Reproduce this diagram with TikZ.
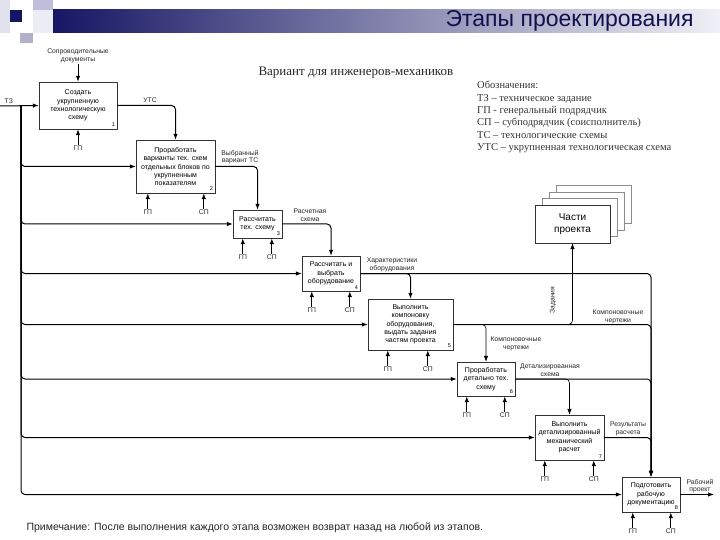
\documentclass[tikz,border=0pt]{standalone}
\usepackage{fontspec}
\setmainfont{Liberation Sans}
\newfontfamily\timesfont{Liberation Serif}
\usepackage{tikz}
\usetikzlibrary{arrows.meta, positioning, calc}

\definecolor{barnavy}{RGB}{22,22,100}
\definecolor{barmid}{RGB}{130,130,182}
\definecolor{barlight}{RGB}{240,240,246}
\definecolor{titlenavy}{RGB}{16,16,80}
\definecolor{lavender}{RGB}{190,190,220}

\begin{document}
\begin{tikzpicture}[
  x=1pt, y=-1pt,
  stage/.style={draw=black!80, fill=white, align=center, inner sep=1pt, font=\fontsize{7}{8.4}\selectfont},
  num/.style={anchor=south east, inner sep=2pt, font=\fontsize{5.5}{6}\selectfont},
  lbl/.style={align=center, inner sep=0.5pt, text=black!85, font=\fontsize{6.8}{7.6}\selectfont},
  partbox/.style={draw, fill=white, minimum width=75pt, minimum height=38pt},
  flow/.style={-{Latex[length=6pt, width=4.5pt]}, line width=1pt, rounded corners=4pt},
  thinflow/.style={flow, line width=0.6pt}
]
\useasboundingbox (0,0) rectangle (720,540);

% slide header
\fill[lavender!45] (0,0) rectangle (10,33);
\fill[lavender] (33,0) rectangle (53,10);
\fill[lavender!30] (33,10) rectangle (53,33);
\fill[lavender!80!gray] (20,33) rectangle (33,43);
\fill[barnavy] (10,10) rectangle (22,22);
\shade[left color=barnavy, middle color=barmid, right color=barlight] (53,10) rectangle (720,33);
\node[anchor=east, text=titlenavy, font=\fontsize{23}{26}\selectfont] (title) at (697,21) {Этапы проектирования};

\node[anchor=west, text=black!85, font=\timesfont\fontsize{13}{15}\selectfont] (variant) at (255,73) {Вариант для инженеров-механиков};
\node[anchor=north west, align=left, inner sep=0pt, text=black!80, font=\timesfont\fontsize{10.5}{12.4}\selectfont] (legend) at (477,81)
  {Обозначения:\\ТЗ – техническое задание\\ГП - генеральный подрядчик\\СП – субподрядчик (соисполнитель)\\ТС – технологические схемы\\УТС – укрупненная технологическая схема};

% stages
\node[stage, minimum width=78pt, minimum height=47pt, label={[num]south east:1}] (s1) at (78,105.5) {Создать\\укрупненную\\технологическую\\схему};
\node[stage, minimum width=79pt, minimum height=53pt, label={[num]south east:2}] (s2) at (175.5,166.5) {Проработать\\варианты тех. схем\\отдельных блоков по\\укрупненным\\показателям};
\node[stage, minimum width=49pt, minimum height=28pt, label={[num]south east:3}] (s3) at (257.5,224) {Рассчитать\\тех. схему};
\node[stage, minimum width=58pt, minimum height=35pt, label={[num]south east:4}] (s4) at (331,273.5) {Рассчитать и\\выбрать\\оборудование};
\node[stage, minimum width=85pt, minimum height=51pt, label={[num]south east:5}] (s5) at (410.5,324.5) {Выполнить\\компоновку\\оборудования,\\выдать задания\\частям проекта};
\node[stage, minimum width=58pt, minimum height=34pt, label={[num]south east:6}] (s6) at (486,379) {Проработать\\детально тех.\\схему};
\node[stage, minimum width=69pt, minimum height=45pt, label={[num]south east:7}] (s7) at (569.5,437.5) {Выполнить\\детализированный\\механический\\расчет};
\node[stage, minimum width=58pt, minimum height=35pt, label={[num]south east:8}] (s8) at (651,494.5) {Подготовить\\рабочую\\документацию};

% parts of the project
\foreach \i in {3,2,1}
  \node[partbox, draw=black!45] (back\i) at (572.5+7*\i,224-6.5*\i) {};
\node[partbox, draw=black!80, font=\fontsize{10}{12}\selectfont, align=center] (parts) at (572.5,224) {Части\\проекта};

% inputs
\coordinate (tz) at (0,106);
\coordinate (rail) at (21,106);
\node[lbl, anchor=south west] (tzlbl) at (4,104) {ТЗ};
\draw[flow] (tz) -- (s1.west);
\foreach \s in {s2,s3,s4,s5,s6,s7,s8}
  \draw[flow] (rail) |- (\s.west);

% controls and outputs
\node[lbl] (docs) at (78,56) {Сопроводительные\\документы};
\draw[flow] (docs) -- (s1.north);
\draw[flow] (s1.east) -| (s2.north);
\draw[flow] (s2.east) -| (s3.north);
\draw[flow] (s3.east) -| (s4.north);
\draw[flow] (s4.east) -| (s5.north);
\draw[thinflow] (s5.east) -| (s6.north);
\draw[thinflow] (s5.east) -| (parts.south);
\draw[thinflow] (s6.east) -| (s7.north);
\foreach \s in {s4,s5,s6,s7}
  \draw[flow] (\s.east) -| (s8.north);
\coordinate (out) at (714,494.5);
\draw[flow] (s8.east) -- (out);

\node[lbl] (utc) at (150,100) {УТС};
\node[lbl] (chosen) at (240,157) {Выбранный\\вариант ТС};
\node[lbl] (calc) at (310,215) {Расчетная\\схема};
\node[lbl] (equip) at (392,265) {Характеристики\\оборудования};
\node[lbl] (layout) at (516,344) {Компоновочные\\чертежи};
\node[lbl, rotate=90] (tasks) at (553,300) {Задания};
\node[lbl] (layout2) at (618,317) {Компоновочные\\чертежи};
\node[lbl] (detail) at (550,370) {Детализированная\\схема};
\node[lbl] (results) at (628,429) {Результаты\\расчета};
\node[lbl] (project) at (700,486) {Рабочий\\проект};

% mechanisms
\node[lbl, anchor=north] (gp-s1) at (78,145) {ГП};
\draw[flow] (gp-s1) -- (s1.south);
\foreach \s/\g/\c in {s2/12/68, s3/10/39, s4/10/48, s5/20/60, s6/10/48, s7/10/59, s8/11/49} {
  \path (\s.south west) ++(\g,16) node[lbl, anchor=north] (gp-\s) {ГП};
  \path (\s.south west) ++(\c,16) node[lbl, anchor=north] (sp-\s) {СП};
  \draw[flow] (gp-\s) -- (gp-\s |- \s.south);
  \draw[flow] (sp-\s) -- (sp-\s |- \s.south);
}

\node[anchor=west, text=black!85, font=\fontsize{10.5}{12}\selectfont] (note) at (23,528) {Примечание: После выполнения каждого этапа возможен возврат назад на любой из этапов.};
\end{tikzpicture}
\end{document}
